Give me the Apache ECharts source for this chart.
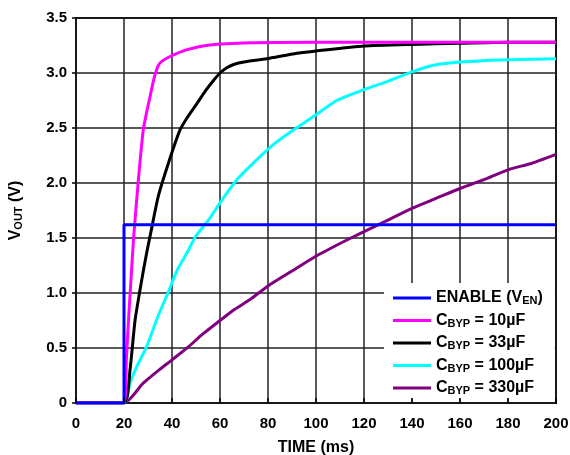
<!DOCTYPE html>
<html>
<head>
<meta charset="utf-8">
<script src="https://cdn.jsdelivr.net/npm/echarts@6/dist/echarts.min.js"></script>
<style>html,body{margin:0;padding:0;background:#fff}#c{width:570px;height:455px}</style>
</head>
<body>
<div id="c"></div>
<script>
// ---- data ----
const xTicks = [0, 20, 40, 60, 80, 100, 120, 140, 160, 180, 200];
const yTicks = [0, 0.5, 1.0, 1.5, 2.0, 2.5, 3.0, 3.5];

const enT = [0, 20, 20, 40, 60, 80, 100, 120, 140, 160, 180, 200];
const enV = [0, 0, 1.62, 1.62, 1.62, 1.62, 1.62, 1.62, 1.62, 1.62, 1.62, 1.62];

const c10T = [0, 20, 21, 22, 23, 24, 26, 28, 29.5, 30.8, 32.5, 34.3, 36, 39.2, 46, 55.8, 72.5, 100, 140, 200];
const c10V = [0, 0, 0.4, 0.8, 1.15, 1.5, 2.03, 2.48, 2.65, 2.78, 2.95, 3.07, 3.11, 3.15, 3.21, 3.255, 3.275, 3.28, 3.28, 3.28];

const c33T = [0, 20, 22.5, 24.6, 27.4, 29.4, 30.8, 34.3, 38.5, 43.3, 46.5, 50.3, 54, 57.2, 60, 63, 66, 70, 79.5, 92, 100, 120, 140, 160, 180, 200];
const c33V = [0, 0, 0.30, 0.75, 1.12, 1.36, 1.51, 1.88, 2.18, 2.48, 2.60, 2.72, 2.84, 2.93, 3.00, 3.05, 3.08, 3.10, 3.13, 3.18, 3.20, 3.245, 3.26, 3.27, 3.28, 3.28];

const c100T = [0, 20, 22.5, 25.3, 29.4, 34, 38.5, 42, 46.1, 50, 55.1, 60, 67, 76.7, 84, 90.5, 100, 108.6, 120, 129.4, 140, 148.9, 160, 180, 200];
const c100V = [0, 0, 0.18, 0.33, 0.51, 0.78, 1.01, 1.20, 1.36, 1.52, 1.66, 1.82, 2.03, 2.24, 2.38, 2.48, 2.62, 2.75, 2.85, 2.92, 3.01, 3.07, 3.10, 3.12, 3.13];

const c330T = [0, 20, 28, 34, 39.9, 46.8, 53, 60, 66, 72.5, 79.7, 90, 99.6, 110, 118.3, 128.7, 140, 150, 160, 170, 180, 190, 200];
const c330V = [0, 0, 0.18, 0.29, 0.39, 0.51, 0.63, 0.75, 0.85, 0.94, 1.06, 1.20, 1.33, 1.45, 1.54, 1.65, 1.77, 1.86, 1.95, 2.03, 2.12, 2.18, 2.26];

const names = ['ENABLE', 'C10', 'C33', 'C100', 'C330'];
const legendText = {
  ENABLE: '{m|ENABLE (V}{s|EN}{m|)}',
  C10: '{m|C}{s|BYP}{m| = 10µF}',
  C33: '{m|C}{s|BYP}{m| = 33µF}',
  C100: '{m|C}{s|BYP}{m| = 100µF}',
  C330: '{m|C}{s|BYP}{m| = 330µF}'
};
const colors = ['#0000FF', '#FF00FF', '#000000', '#00FFFF', '#800080'];

function pairs(t, v) { return t.map((x, i) => [x, v[i]]); }
const seriesData = [pairs(enT, enV), pairs(c10T, c10V), pairs(c33T, c33V), pairs(c100T, c100V), pairs(c330T, c330V)];

const FONT = '"Liberation Sans", Arial, sans-serif';

const chart = echarts.init(document.getElementById('c'), null, { renderer: 'canvas' });
const yFmt = v => (v === 0 ? '0' : v.toFixed(1));

chart.setOption({
  animation: false,
  backgroundColor: '#fff',
  grid: { left: 76, right: 14, top: 18, bottom: 52, outerBoundsMode: 'none', containLabel: false, show: true, borderColor: '#000', borderWidth: 2, backgroundColor: 'transparent', z: 0 },
  xAxis: [{
    type: 'value', min: 0, max: 200, interval: 20,
    name: 'TIME (ms)', nameLocation: 'middle', nameGap: 37,
    nameTextStyle: { fontFamily: FONT, fontWeight: 'bold', fontSize: 16, color: '#000' },
    axisLine: { show: false }, axisTick: { show: false },
    axisLabel: { fontFamily: FONT, fontWeight: 'bold', fontSize: 15, color: '#000', margin: 13 },
    splitLine: { show: true, lineStyle: { color: '#222', width: 1.5 } }
  }, {
    type: 'value', min: 0, max: 200, interval: 20, position: 'bottom', z: 10,
    axisLine: { show: false }, axisLabel: { show: false }, splitLine: { show: false },
    axisTick: { show: true, inside: true, length: 5, lineStyle: { color: '#000', width: 1.5 } }
  }],
  yAxis: [{
    type: 'value', min: 0, max: 3.5, interval: 0.5,
    name: '{m|V}{s|OUT}{m| (V)}', nameLocation: 'middle', nameGap: 52, nameRotate: 90,
    nameTextStyle: {
      rich: {
        m: { fontFamily: FONT, fontWeight: 'bold', fontSize: 16, color: '#000' },
        s: { fontFamily: FONT, fontWeight: 'bold', fontSize: 11, color: '#000', padding: [6, 0, 0, 0] }
      }
    },
    axisLine: { show: false }, axisTick: { show: false },
    axisLabel: { fontFamily: FONT, fontWeight: 'bold', fontSize: 15, color: '#000', margin: 9, formatter: yFmt },
    splitLine: { show: true, lineStyle: { color: '#222', width: 1.5 } }
  }, {
    type: 'value', min: 0, max: 3.5, interval: 0.5, position: 'right', z: 10,
    axisLine: { show: false }, axisLabel: { show: false }, splitLine: { show: false },
    axisTick: { show: true, inside: true, length: 4, lineStyle: { color: '#000', width: 1.5 } }
  }],
  legend: {
    orient: 'vertical', left: 384, top: 283,
    backgroundColor: '#fff', padding: [7, 12, 2, 9],
    icon: 'rect', itemWidth: 38, itemHeight: 3, itemGap: 6,
    data: names,
    formatter: n => legendText[n],
    textStyle: {
      rich: {
        m: { fontFamily: FONT, fontWeight: 'bold', fontSize: 16, color: '#000' },
        s: { fontFamily: FONT, fontWeight: 'bold', fontSize: 11, color: '#000', padding: [6, 0, 0, 0] }
      }
    }
  },
  series: names.map((n, i) => ({
    name: n, type: 'line', data: seriesData[i],
    xAxisIndex: 0, yAxisIndex: 0,
    showSymbol: false, symbol: 'none', smooth: i === 0 ? false : 0.2,
    lineStyle: { color: colors[i], width: 3 }, itemStyle: { color: colors[i] },
    z: 2 + (4 - i)
  }))
});
</script>
</body>
</html>
